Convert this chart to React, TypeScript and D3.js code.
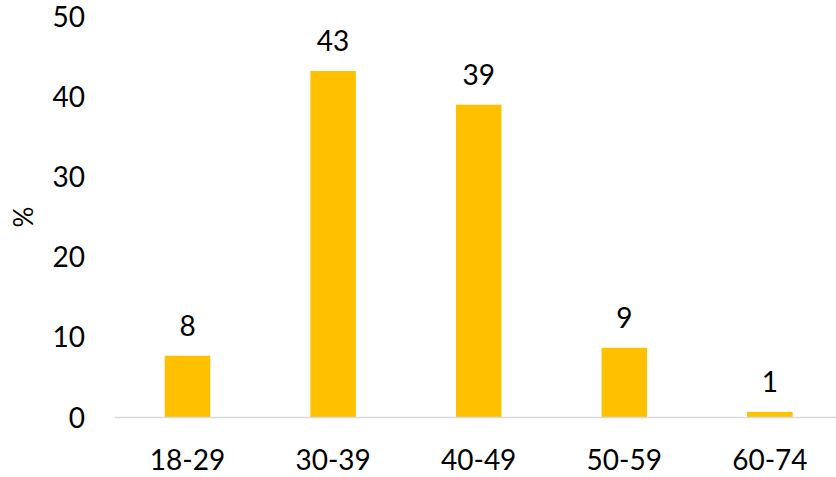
import React from "react";
import * as d3 from "d3";

const categories = ["18-29", "30-39", "40-49", "50-59", "60-74"];
const values = [7.7, 43.2, 39.0, 8.7, 0.7];
const labels = ["8", "43", "39", "9", "1"];
const yTicks = [0, 10, 20, 30, 40, 50];
const yTitle = "%";

export default function App() {
  const W = 836;
  const H = 477;
  const left = 114.7;
  const right = 842.7;
  const y0 = 417.5;
  const y50 = 16.5;
  const font = "Lato, 'Open Sans', sans-serif";

  const x = d3.scaleBand<string>().domain(categories).range([left, right]).paddingInner(0.6875).paddingOuter(0.34375);
  const y = d3.scaleLinear().domain([0, 50]).range([y0, y50]);

  return (
    <svg width={W} height={H} style={{ position: "absolute", left: 0, top: 0, background: "#fff" }}>
      <rect width={W} height={H} fill="#fff" />
      {yTicks.map((t) => (
        <text key={t} x={85} y={y(t)} dy="0.36em" textAnchor="end" fontFamily={font} fontSize={28} fill="#000">
          {t}
        </text>
      ))}
      <text transform={`translate(33,${(y0 + y50) / 2}) rotate(-90)`} textAnchor="middle" fontFamily={font} fontSize={26} fill="#000">
        {yTitle}
      </text>
      {categories.map((c, i) => (
        <g key={c}>
          <rect x={x(c)} y={y(values[i])} width={x.bandwidth()} height={y0 - y(values[i])} fill="#FFC000" />
          <text x={(x(c) as number) + x.bandwidth() / 2} y={y(values[i]) - 20} textAnchor="middle" fontFamily={font} fontSize={28} fill="#000">
            {labels[i]}
          </text>
          <text x={(x(c) as number) + x.bandwidth() / 2} y={460} dy="0.36em" textAnchor="middle" fontFamily={font} fontSize={28} fill="#000">
            {c}
          </text>
        </g>
      ))}
      <line x1={left} x2={right} y1={y0} y2={y0} stroke="#d9d9d9" strokeWidth={1.5} />
    </svg>
  );
}
